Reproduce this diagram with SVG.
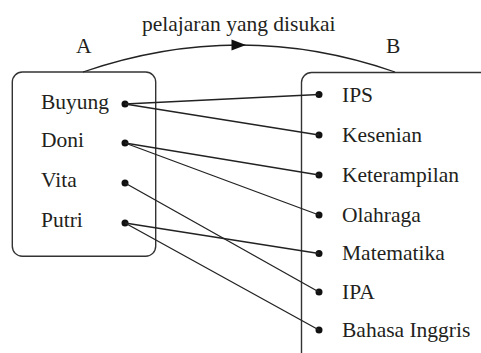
<svg xmlns="http://www.w3.org/2000/svg" width="481" height="353" viewBox="0 0 481 353">
<style>
text{font-family:"Liberation Serif","Times New Roman",serif;font-size:21.5px;fill:#231f20}
.box{fill:none;stroke:#333;stroke-width:1.4}
.ln{stroke:#222;stroke-width:1.3;fill:none}
.dot{fill:#111}
</style>
<rect width="481" height="353" fill="#fff"/>
<g id="setA">
<rect class="box" x="12.3" y="72" width="143.4" height="184.3" rx="10"/>
<text x="76" y="53">A</text>
</g>
<g id="setB">
<rect class="box" x="301.5" y="72.5" width="190" height="300" rx="10"/>
<text x="386" y="53">B</text>
</g>
<g id="relation">
<path class="ln" d="M83,72 Q240,18 395,72"/>
<polygon points="246,45 231.5,39.5 231.5,50.5" fill="#111"/>
<text x="142" y="31">pelajaran yang disukai</text>
</g>
<g id="buyung"><circle class="dot" cx="125" cy="104" r="3.5"/><text x="41" y="108.5">Buyung</text></g>
<g id="doni"><circle class="dot" cx="125" cy="143" r="3.5"/><text x="41" y="147">Doni</text></g>
<g id="vita"><circle class="dot" cx="125" cy="183" r="3.5"/><text x="41" y="187">Vita</text></g>
<g id="putri"><circle class="dot" cx="125" cy="223" r="3.5"/><text x="41" y="227">Putri</text></g>
<g id="ips"><circle class="dot" cx="319" cy="94.5" r="3.5"/><text x="342" y="101.5">IPS</text></g>
<g id="kesenian"><circle class="dot" cx="319" cy="135" r="3.5"/><text x="342" y="141.5">Kesenian</text></g>
<g id="keterampilan"><circle class="dot" cx="319" cy="175" r="3.5"/><text x="342" y="181.5">Keterampilan</text></g>
<g id="olahraga"><circle class="dot" cx="319" cy="215" r="3.5"/><text x="342" y="221.5">Olahraga</text></g>
<g id="matematika"><circle class="dot" cx="319" cy="253.5" r="3.5"/><text x="342" y="260">Matematika</text></g>
<g id="ipa"><circle class="dot" cx="319" cy="292" r="3.5"/><text x="342" y="298.5">IPA</text></g>
<g id="bahasa"><circle class="dot" cx="319" cy="330" r="3.5"/><text x="342" y="336.5">Bahasa Inggris</text></g>
<g id="connectors">
<line class="ln" x1="125" y1="104" x2="319" y2="94.5"/>
<line class="ln" x1="125" y1="104" x2="319" y2="135"/>
<line class="ln" x1="125" y1="143" x2="319" y2="175"/>
<line class="ln" x1="125" y1="143" x2="319" y2="215"/>
<line class="ln" x1="125" y1="183" x2="319" y2="292"/>
<line class="ln" x1="125" y1="223" x2="319" y2="253.5"/>
<line class="ln" x1="125" y1="223" x2="319" y2="330"/>
</g>
</svg>
